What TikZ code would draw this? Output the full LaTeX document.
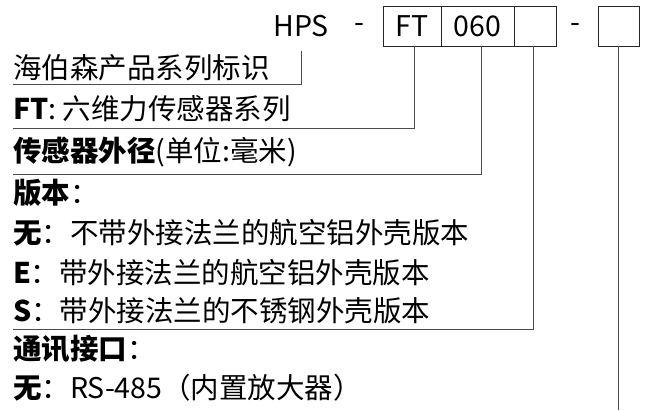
\documentclass[tikz,border=0pt]{standalone}
\usepackage{fontspec}
\setmainfont{Noto Sans CJK SC}
\usepackage{tikz}
\usetikzlibrary{positioning}
\tikzset{
    code box/.style={draw=black!85,line width=1pt,minimum height=40pt},
    lead line/.style={draw=black!70,line width=1pt},
    entry/.style={anchor=base west},
}
\tikzstyle{every node}=[font=\fontsize{28.5pt}{32pt}\selectfont,inner sep=0pt,outer sep=0pt]

\begin{document}
\begin{tikzpicture}[x=1pt,y=-1pt]
        \useasboundingbox (0,0) rectangle (645,410);
        \node (hps) at (301,26) {HPS};
        \node (dash1) at (359,28) {-};
        \node[code box,minimum width=58pt] (ft) at (412,26) {FT};
        \node[code box,minimum width=73pt,right=0pt of ft] (dia) {060};
        \node[code box,minimum width=42pt,right=0pt of dia] (ver) {};
        \node (dash2) at (575,28) {-};
        \node[code box,minimum width=41pt] (iface) at (618.5,26) {};
        \node[entry] (series) at (13,78) {海伯森产品系列标识};
        \node[entry] (ftrow) at (13,119) {\textbf{FT}: 六维力传感器系列};
        \node[entry] (diarow) at (13,161) {\textbf{传感器外径}(单位:毫米)};
        \node[entry] (verrow) at (13,203) {\textbf{版本}：};
        \node[entry] (ver0) at (13,243) {\textbf{无}：不带外接法兰的航空铝外壳版本};
        \node[entry] (verE) at (13,283) {\textbf{E}：带外接法兰的航空铝外壳版本};
        \node[entry] (verS) at (13,321) {\textbf{S}：带外接法兰的不锈钢外壳版本};
        \node[entry] (ifrow) at (13,359) {\textbf{通讯接口}：};
        \node[entry] (if0) at (13,398) {\textbf{无}：RS-485（内置放大器）};
        \coordinate (c1) at (13,84);
        \coordinate (c2) at (13,128);
        \coordinate (c3) at (13,174);
        \coordinate (c4) at (13,329);
        \coordinate (c5) at (0,410);
        \draw[lead line] ([yshift=-14pt]hps.south) |- (c1);
        \draw[lead line] ([xshift=2pt]ft.south) |- (c2);
        \draw[lead line] ([xshift=3.5pt]dia.south) |- (c3);
        \draw[lead line] ([xshift=-2pt]ver.south) |- (c4);
        \draw[lead line] (iface.south) -- (iface.south |- c5);
\end{tikzpicture}
\end{document}
